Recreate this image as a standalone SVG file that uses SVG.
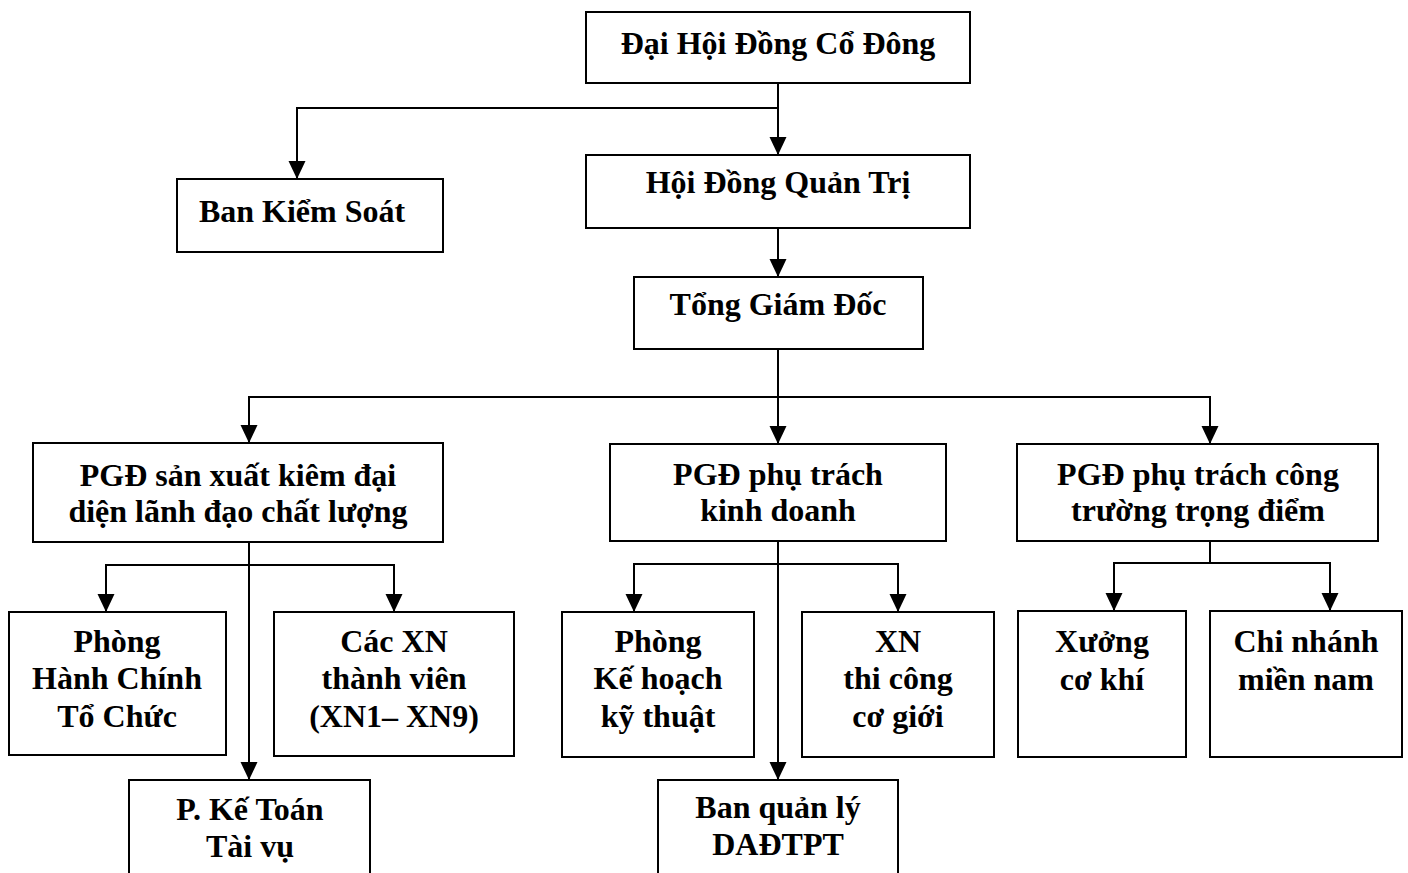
<svg xmlns="http://www.w3.org/2000/svg" width="1408" height="873" viewBox="0 0 1408 873">
<defs>
<marker id="arrd" markerUnits="userSpaceOnUse" markerWidth="18" markerHeight="18" refX="18" refY="8.5" orient="auto" viewBox="0 0 18 17">
<path d="M0,0 L18,8.5 L0,17 Z" fill="#000"/>
</marker>
</defs>
<style>
.box{fill:#fff;stroke:#000;stroke-width:2}
.t{font-family:"Liberation Serif","Times New Roman",serif;font-weight:bold;font-size:32px;fill:#000;text-anchor:middle}
.c{fill:none;stroke:#000;stroke-width:2}
.a{fill:none;stroke:#000;stroke-width:2;marker-end:url(#arrd)}
</style>
<rect width="1408" height="873" fill="#fff"/>
<g id="connectors">
<path class="c" d="M778,83 V108"/>
<path class="a" d="M778,108 V155"/>
<path class="a" d="M778,108 H297 V179"/>
<path class="a" d="M778,228 V277"/>
<path class="c" d="M778,349 V397"/>
<path class="a" d="M778,397 V444"/>
<path class="a" d="M778,397 H249 V443"/>
<path class="a" d="M778,397 H1210 V444"/>
<path class="a" d="M249,542 V780"/>
<path class="a" d="M249,565 H106 V612"/>
<path class="a" d="M249,565 H394 V612"/>
<path class="a" d="M778,541 V780"/>
<path class="a" d="M778,564 H634 V612"/>
<path class="a" d="M778,564 H898 V612"/>
<path class="c" d="M1210,541 V563"/>
<path class="a" d="M1210,563 H1114 V611"/>
<path class="a" d="M1210,563 H1330 V611"/>
</g>
<g id="dhdcd"><rect class="box" x="586" y="12" width="384" height="71"/><text class="t" x="778" y="54">Đại Hội Đồng Cổ Đông</text></g>
<g id="hdqt"><rect class="box" x="586" y="155" width="384" height="73"/><text class="t" x="778" y="193">Hội Đồng Quản Trị</text></g>
<g id="bks"><rect class="box" x="177" y="179" width="266" height="73"/><text class="t" x="302" y="222">Ban Kiểm Soát</text></g>
<g id="tgd"><rect class="box" x="634" y="277" width="289" height="72"/><text class="t" x="778" y="315">Tổng Giám Đốc</text></g>
<g id="pgd-sx"><rect class="box" x="33" y="443" width="410" height="99"/><text class="t" x="238" y="486">PGĐ sản xuất kiêm đại</text><text class="t" x="238" y="522">diện lãnh đạo chất lượng</text></g>
<g id="pgd-kd"><rect class="box" x="610" y="444" width="336" height="97"/><text class="t" x="778" y="485">PGĐ phụ trách</text><text class="t" x="778" y="521">kinh doanh</text></g>
<g id="pgd-ct"><rect class="box" x="1017" y="444" width="361" height="97"/><text class="t" x="1198" y="485">PGĐ phụ trách công</text><text class="t" x="1198" y="521">trường trọng điểm</text></g>
<g id="phong-hc"><rect class="box" x="9" y="612" width="217" height="143"/><text class="t" x="117" y="652">Phòng</text><text class="t" x="117" y="689">Hành Chính</text><text class="t" x="117" y="727">Tổ Chức</text></g>
<g id="cac-xn"><rect class="box" x="274" y="612" width="240" height="144"/><text class="t" x="394" y="652">Các XN</text><text class="t" x="394" y="689">thành viên</text><text class="t" x="394" y="727">(XN1– XN9)</text></g>
<g id="p-ketoan"><rect class="box" x="129" y="780" width="241" height="110"/><text class="t" x="250" y="820">P. Kế Toán</text><text class="t" x="250" y="857">Tài vụ</text></g>
<g id="phong-kh"><rect class="box" x="562" y="612" width="192" height="145"/><text class="t" x="658" y="652">Phòng</text><text class="t" x="658" y="689">Kế hoạch</text><text class="t" x="658" y="727">kỹ thuật</text></g>
<g id="xn-tc"><rect class="box" x="802" y="612" width="192" height="145"/><text class="t" x="898" y="652">XN</text><text class="t" x="898" y="689">thi công</text><text class="t" x="898" y="727">cơ giới</text></g>
<g id="ban-ql"><rect class="box" x="658" y="780" width="240" height="110"/><text class="t" x="778" y="818">Ban quản lý</text><text class="t" x="778" y="855">DAĐTPT</text></g>
<g id="xuong"><rect class="box" x="1018" y="611" width="168" height="146"/><text class="t" x="1102" y="652">Xưởng</text><text class="t" x="1102" y="690">cơ khí</text></g>
<g id="chi-nhanh"><rect class="box" x="1210" y="611" width="192" height="146"/><text class="t" x="1306" y="652">Chi nhánh</text><text class="t" x="1306" y="690">miền nam</text></g>
</svg>
